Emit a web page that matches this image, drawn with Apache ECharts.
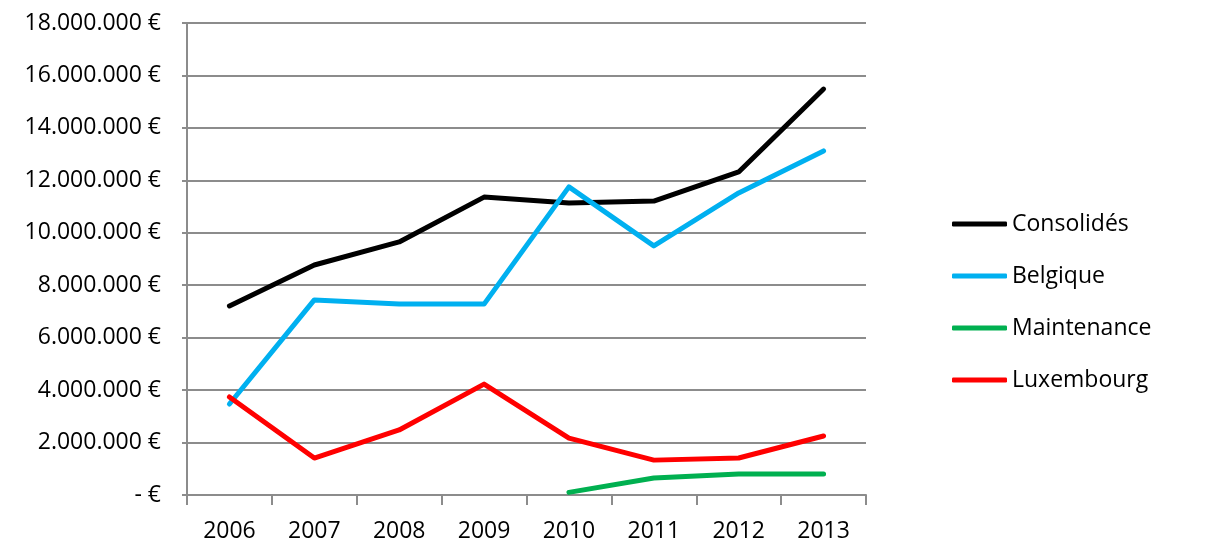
<!DOCTYPE html>
<html>
<head>
<meta charset="utf-8">
<script src="https://cdn.jsdelivr.net/npm/echarts@6/dist/echarts.min.js"></script>
<style>html,body{margin:0;padding:0;background:#fff;}#c{width:1223px;height:558px;}</style>
</head>
<body>
<div id="c"></div>
<script>
const years = ['2006','2007','2008','2009','2010','2011','2012','2013'];
const consolides = [7210000, 8770000, 9650000, 11360000, 11140000, 11210000, 12320000, 15480000];
const belgique = [3470000, 7440000, 7280000, 7280000, 11750000, 9500000, 11520000, 13120000];
const maintenance = [null, null, null, null, 100000, 650000, 800000, 800000];
const luxembourg = [3740000, 1410000, 2480000, 4230000, 2170000, 1330000, 1410000, 2250000];
const yTickLabels = ['- €','2.000.000 €','4.000.000 €','6.000.000 €','8.000.000 €','10.000.000 €','12.000.000 €','14.000.000 €','16.000.000 €','18.000.000 €'];

const chart = echarts.init(document.getElementById('c'), null, {renderer:'canvas'});
const font = '"Open Sans", sans-serif';
const gray = '#8c8c8c';
function mk(name, data, color){
  return {name, type:'line', data, symbol:'none', showSymbol:false, connectNulls:false,
    lineStyle:{width:5, color, cap:'round', join:'round'}, itemStyle:{color}, animation:false};
}
chart.setOption({
  animation:false,
  grid:{left:187, right:357, top:23, bottom:63},
  legend:{
    orient:'vertical', left:952, top:212, padding:0,
    icon:'roundRect', itemWidth:55, itemHeight:5, itemGap:28,
    textStyle:{fontFamily:font, fontSize:23, color:'#000', lineHeight:24, height:24},
    data:['Consolidés','Belgique','Maintenance','Luxembourg']
  },
  xAxis:{
    type:'category', data:years, boundaryGap:true,
    axisLine:{lineStyle:{color:gray, width:2}},
    axisTick:{show:true, length:10, lineStyle:{color:gray, width:2}, alignWithLabel:false},
    axisLabel:{fontFamily:font, fontSize:23, color:'#000', margin:25}
  },
  yAxis:{
    type:'value', min:0, max:18000000, interval:2000000,
    axisLine:{show:true, lineStyle:{color:gray, width:2}},
    axisTick:{show:true, inside:false, length:5, lineStyle:{color:gray, width:2}},
    splitLine:{show:true, lineStyle:{color:gray, width:2}},
    axisLabel:{fontFamily:font, fontSize:23, color:'#000', margin:26,
      formatter:(v, i)=> yTickLabels[Math.round(v/2000000)]}
  },
  series:[
    mk('Consolidés', consolides, '#000000'),
    mk('Belgique', belgique, '#00B0F0'),
    mk('Maintenance', maintenance, '#00B050'),
    mk('Luxembourg', luxembourg, '#FF0000')
  ]
});
</script>
</body>
</html>
